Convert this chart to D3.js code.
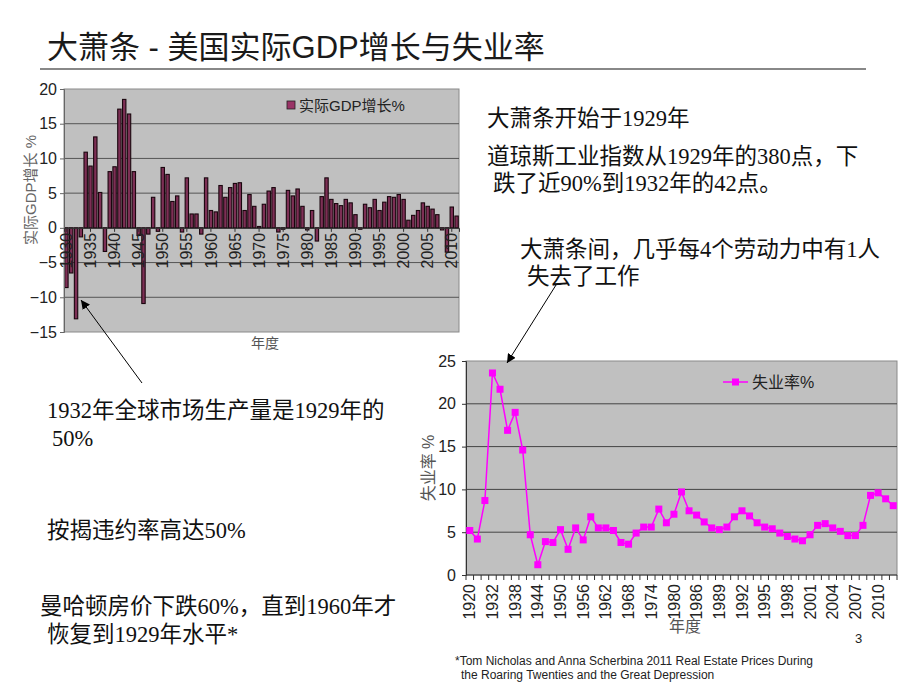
<!DOCTYPE html>
<html><head><meta charset="utf-8">
<script src="https://cdn.jsdelivr.net/npm/d3@7"></script>
<style>
body{margin:0;background:#fff;}
svg{display:block;}
</style></head>
<body>
<svg id="c" width="920" height="690"></svg>
<script>
// ---- data ----
const gdpYears = d3.range(1930, 2012);
const gdpValues = [-8.6,-6.5,-13.1,-1.3,10.9,8.9,13.1,5.1,-3.4,8.1,8.8,17.1,18.5,16.4,8.1,-1.1,-10.9,-0.9,4.4,-0.5,
 8.7,7.7,3.8,4.6,-0.6,7.2,2.0,2.0,-0.9,7.2,2.5,2.3,6.1,4.4,5.8,6.4,6.5,2.5,4.8,3.1,
 0.2,3.4,5.3,5.8,-0.6,-0.2,5.4,4.6,5.6,3.1,-0.3,2.5,-1.9,4.5,7.2,4.1,3.5,3.2,4.1,3.6,
 1.9,-0.2,3.4,2.9,4.1,2.5,3.7,4.5,4.4,4.8,4.1,1.1,1.8,2.5,3.6,3.1,2.7,1.9,-0.3,-3.5,3.0,1.7];
const gdpTicks = [-15,-10,-5,0,5,10,15,20];
const gdpLabelYears = [1930,1935,1940,1945,1950,1955,1960,1965,1970,1975,1980,1985,1990,1995,2000,2005,2010];

const unempYears = [1920,1928,1930,1932,1934,1936,1938,1940,1942,1944,1946,1948,1950,1952,1954,1956,1958,1960,1962,1964,
 1966,1968,1970,1972,1974,1976,1978,1980,1982,1984,1986,1987,1988,1989,1990,1991,1992,1993,1994,1995,
 1996,1997,1998,1999,2000,2001,2002,2003,2004,2005,2006,2007,2008,2009,2010,2011,2012];
const unempValues = [5.2,4.2,8.7,23.6,21.7,16.9,19.0,14.6,4.7,1.2,3.9,3.8,5.3,3.0,5.5,4.1,6.8,5.5,5.5,5.2,
 3.8,3.6,4.9,5.6,5.6,7.7,6.1,7.1,9.7,7.5,7.0,6.2,5.5,5.3,5.6,6.8,7.5,6.9,6.1,5.6,
 5.4,4.9,4.5,4.2,4.0,4.7,5.8,6.0,5.5,5.1,4.6,4.6,5.8,9.3,9.6,8.9,8.1];
const unempTicks = [0,5,10,15,20,25];

const svg = d3.select("#c");
const SANS = "'Liberation Sans', Arial, 'Noto Sans CJK SC', sans-serif";
const SERIF = "'Liberation Serif', 'Times New Roman', 'Noto Sans CJK SC', serif";

svg.append("defs").append("marker").attr("id","ah").attr("viewBox","0 0 10 10")
  .attr("refX",10).attr("refY",5).attr("markerWidth",9).attr("markerHeight",9)
  .attr("markerUnits","userSpaceOnUse").attr("orient","auto")
  .append("path").attr("d","M0,0 L10,5 L0,10 z").attr("fill","#000");

// ---- title ----
svg.append("text").attr("x",47).attr("y",58).attr("font-family",SANS).attr("font-size",31)
  .attr("fill","#1a1a1a").text("大萧条 - 美国实际GDP增长与失业率");
svg.append("line").attr("x1",40).attr("x2",866).attr("y1",69).attr("y2",69)
  .attr("stroke","#888").attr("stroke-width",2);

// ---- GDP chart ----
const g1 = {l:64,r:459,t:89,b:332};
const x1 = d3.scaleBand().domain(gdpYears).range([g1.l,g1.r]).paddingInner(0.3).paddingOuter(0.15);
const y1 = d3.scaleLinear().domain([-15,20]).range([g1.b,g1.t]);
svg.append("rect").attr("x",g1.l).attr("y",g1.t).attr("width",g1.r-g1.l).attr("height",g1.b-g1.t)
  .attr("fill","#c0c0c0").attr("stroke","#8a8a8a").attr("stroke-width",1);
svg.append("g").selectAll("line").data(gdpTicks.filter(d=>d>-15&&d<20)).join("line")
  .attr("x1",g1.l).attr("x2",g1.r).attr("y1",d=>y1(d)).attr("y2",d=>y1(d))
  .attr("stroke","#555").attr("stroke-width",1);
svg.append("g").selectAll("rect").data(gdpYears).join("rect")
  .attr("x",(d)=>x1(d)).attr("width",x1.bandwidth())
  .attr("y",(d,i)=>y1(Math.max(0,gdpValues[i])))
  .attr("height",(d,i)=>Math.abs(y1(gdpValues[i])-y1(0)))
  .attr("fill","#7d2f55").attr("stroke","#1a060e").attr("stroke-width",1.1);
// y axis
const ay1 = svg.append("g").attr("transform",`translate(${g1.l},0)`)
  .call(d3.axisLeft(y1).tickValues(gdpTicks).tickSize(4).tickPadding(3).tickFormat(d3.format("d")));
ay1.select(".domain").attr("stroke","#666");
ay1.selectAll(".tick line").attr("stroke","#666");
ay1.selectAll("text").attr("font-family",SANS).attr("font-size",16).attr("fill","#222");
// x axis at zero
const ax1 = svg.append("g").attr("transform",`translate(0,${y1(0)})`)
  .call(d3.axisBottom(x1).tickValues(gdpLabelYears).tickSize(4).tickPadding(2));
ax1.select(".domain").attr("stroke","#333");
ax1.selectAll(".tick line").attr("stroke","#333");
ax1.selectAll("text").attr("font-family",SANS).attr("font-size",16).attr("fill","#222")
  .attr("transform","rotate(-90)").attr("text-anchor","end").attr("dy","0.35em").attr("x",-5).attr("y",0);
// legend
svg.append("rect").attr("x",287).attr("y",101).attr("width",8).attr("height",8)
  .attr("fill","#993366").attr("stroke","#222").attr("stroke-width",0.8);
svg.append("text").attr("x",299).attr("y",111).attr("font-family",SANS).attr("font-size",15)
  .attr("fill","#222").text("实际GDP增长%");
// axis titles
svg.append("text").attr("transform","translate(36,190) rotate(-90)").attr("text-anchor","middle")
  .attr("font-family",SANS).attr("font-size",15).attr("fill","#666").text("实际GDP增长 %");
svg.append("text").attr("x",265).attr("y",348).attr("text-anchor","middle")
  .attr("font-family",SANS).attr("font-size",14).attr("fill","#555").text("年度");

// ---- Unemployment chart ----
const g2 = {l:466,r:897,t:361,b:575};
const x2 = d3.scaleBand().domain(unempYears.map(String)).range([g2.l,g2.r]).padding(0);
const y2 = d3.scaleLinear().domain([0,25]).range([g2.b,g2.t]);
svg.append("rect").attr("x",g2.l).attr("y",g2.t).attr("width",g2.r-g2.l).attr("height",g2.b-g2.t)
  .attr("fill","#c0c0c0").attr("stroke","#8a8a8a").attr("stroke-width",1);
svg.append("g").selectAll("line").data(unempTicks.filter(d=>d>0&&d<25)).join("line")
  .attr("x1",g2.l).attr("x2",g2.r).attr("y1",d=>y2(d)).attr("y2",d=>y2(d))
  .attr("stroke","#444").attr("stroke-width",1);
const ay2 = svg.append("g").attr("transform",`translate(${g2.l},0)`)
  .call(d3.axisLeft(y2).tickValues(unempTicks).tickSize(4).tickPadding(6));
ay2.select(".domain").attr("stroke","#333");
ay2.selectAll(".tick line").attr("stroke","#333");
ay2.selectAll("text").attr("font-family",SANS).attr("font-size",16).attr("fill","#222");
// x axis
const ax2 = svg.append("g").attr("transform",`translate(0,${g2.b})`);
ax2.append("line").attr("x1",g2.l).attr("x2",g2.r).attr("stroke","#333");
ax2.selectAll("line.tk").data(unempYears.map(String).concat(["end"])).join("line").attr("class","tk")
  .attr("x1",d=>d==="end"?g2.r:x2(d)).attr("x2",d=>d==="end"?g2.r:x2(d)).attr("y1",0).attr("y2",5)
  .attr("stroke","#333");
ax2.selectAll("text").data(unempYears.filter((d,i)=>i%3===0)).join("text")
  .attr("transform",d=>`translate(${x2(String(d))+x2.bandwidth()/2},9) rotate(-90)`)
  .attr("text-anchor","end").attr("dy","0.35em")
  .attr("font-family",SANS).attr("font-size",16).attr("fill","#222").text(d=>d);
// line + markers
const line2 = d3.line().x((d,i)=>x2(String(unempYears[i]))+x2.bandwidth()/2).y(d=>y2(d));
svg.append("path").datum(unempValues).attr("d",line2).attr("fill","none")
  .attr("stroke","#ff00ff").attr("stroke-width",1.5);
svg.append("g").selectAll("rect").data(unempValues).join("rect")
  .attr("x",(d,i)=>x2(String(unempYears[i]))+x2.bandwidth()/2-3.5)
  .attr("y",d=>y2(d)-3.5).attr("width",7).attr("height",7).attr("fill","#ff00ff");
// legend
svg.append("line").attr("x1",723).attr("x2",748).attr("y1",382).attr("y2",382)
  .attr("stroke","#ff00ff").attr("stroke-width",1.5);
svg.append("rect").attr("x",732).attr("y",378.5).attr("width",7).attr("height",7).attr("fill","#ff00ff");
svg.append("text").attr("x",752).attr("y",388).attr("font-family",SANS).attr("font-size",16)
  .attr("fill","#222").text("失业率%");
svg.append("text").attr("transform","translate(434,468) rotate(-90)").attr("text-anchor","middle")
  .attr("font-family",SANS).attr("font-size",16).attr("fill","#555").text("失业率 %");
svg.append("text").attr("x",685).attr("y",632).attr("text-anchor","middle")
  .attr("font-family",SANS).attr("font-size",16).attr("fill","#555").text("年度");

// ---- annotations ----
const notes = [
  {x:487,y:126,t:"大萧条开始于1929年"},
  {x:487,y:164,t:"道琼斯工业指数从1929年的380点，下"},
  {x:493,y:191,t:"跌了近90%到1932年的42点。"},
  {x:520,y:257,t:"大萧条间，几乎每4个劳动力中有1人"},
  {x:527,y:284,t:"失去了工作"},
  {x:47,y:418,t:"1932年全球市场生产量是1929年的"},
  {x:52,y:446,t:"50%"},
  {x:47,y:538,t:"按揭违约率高达50%"},
  {x:40,y:614,t:"曼哈顿房价下跌60%，直到1960年才"},
  {x:47,y:642,t:"恢复到1929年水平*"}
];
svg.append("g").selectAll("text").data(notes).join("text")
  .attr("x",d=>d.x).attr("y",d=>d.y).attr("font-family",SERIF).attr("font-size",22.5)
  .attr("fill","#111").text(d=>d.t);

svg.append("line").attr("x1",142).attr("y1",383).attr("x2",81).attr("y2",300)
  .attr("stroke","#000").attr("stroke-width",1).attr("marker-end","url(#ah)");
svg.append("line").attr("x1",556).attr("y1",285).attr("x2",507).attr("y2",363)
  .attr("stroke","#000").attr("stroke-width",1).attr("marker-end","url(#ah)");

svg.append("text").attr("x",855).attr("y",643).attr("font-family",SANS).attr("font-size",13)
  .attr("fill","#222").text("3");
svg.append("text").attr("x",455).attr("y",665).attr("font-family",SANS).attr("font-size",12)
  .attr("fill","#222").text("*Tom Nicholas and Anna Scherbina 2011 Real Estate Prices During");
svg.append("text").attr("x",461).attr("y",679).attr("font-family",SANS).attr("font-size",12)
  .attr("fill","#222").text("the Roaring Twenties and the Great Depression");
</script>
</body></html>
